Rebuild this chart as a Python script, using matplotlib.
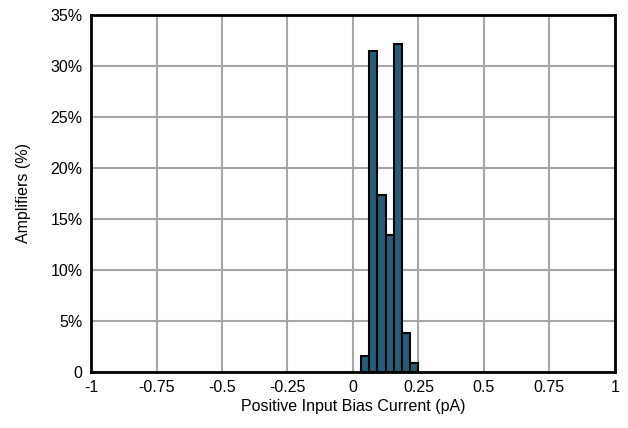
import numpy as np
import matplotlib.pyplot as plt

plt.rcParams['font.family'] = ['Liberation Sans', 'DejaVu Sans']

# bin edges (pA) and share of amplifiers (%)
bin_left = [1/32, 2/32, 3/32, 4/32, 5/32, 6/32, 7/32]
bin_width = 1/32
percent = [1.6, 31.5, 17.3, 13.4, 32.2, 3.8, 0.85]

x_ticks = [-1, -0.75, -0.5, -0.25, 0, 0.25, 0.5, 0.75, 1]
x_labels = ['-1', '-0.75', '-0.5', '-0.25', '0', '0.25', '0.5', '0.75', '1']
y_ticks = [0, 5, 10, 15, 20, 25, 30, 35]
y_labels = ['0', '5%', '10%', '15%', '20%', '25%', '30%', '35%']

fig = plt.figure(figsize=(6.28, 4.28), dpi=100)
ax = fig.add_axes([0.145, 0.131, 0.834, 0.834])

ax.bar(bin_left, percent, width=bin_width, align='edge',
       color='#245d78', edgecolor='black', linewidth=1.5, zorder=3)

ax.set_xlim(-1, 1)
ax.set_ylim(0, 35)
ax.set_xticks(x_ticks)
ax.set_xticklabels(x_labels)
ax.set_yticks(y_ticks)
ax.set_yticklabels(y_labels)
ax.tick_params(length=0, labelsize=11.5, pad=6)
ax.grid(True, color='#a6a6a6', linewidth=1.5, zorder=0)
for s in ax.spines.values():
    s.set_linewidth(2)
    s.set_zorder(4)

ax.set_xlabel('Positive Input Bias Current (pA)', fontsize=11.5, labelpad=3)
ax.set_ylabel('Amplifiers (%)', fontsize=11.5, labelpad=14)

fig.savefig('out.png', dpi=100)
